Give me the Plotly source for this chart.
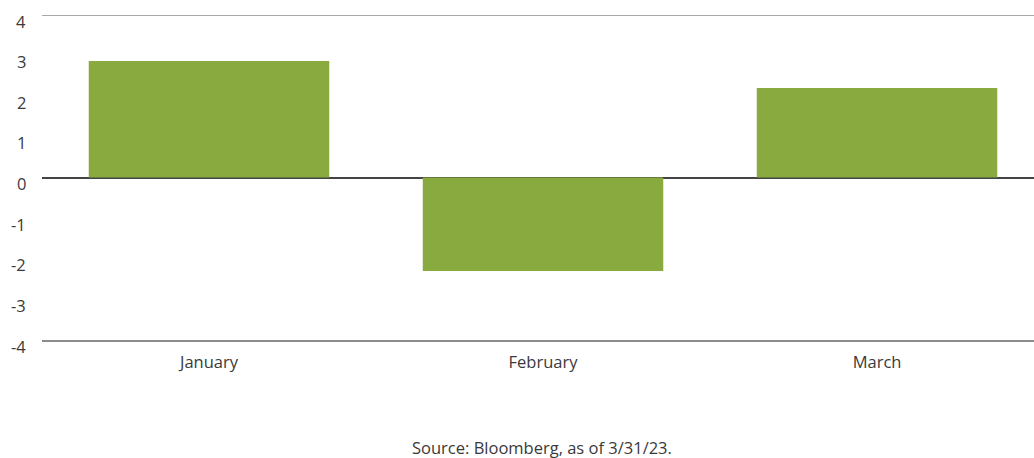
import plotly.graph_objects as go

months = ["January", "February", "March"]
values = [2.87, -2.30, 2.20]
y_ticks = [-4, -3, -2, -1, 0, 1, 2, 3, 4]
source = "Source: Bloomberg, as of 3/31/23."

fig = go.Figure()
fig.add_trace(go.Bar(x=months, y=values, marker_color="#88AA3F", width=0.72,
                     marker_line_width=0))

font_family = "Open Sans, DejaVu Sans, sans-serif"
txt_color = "#3a3a3a"
fs = 16.5
fig.update_layout(
    width=1034, height=458,
    margin=dict(l=42, r=0, t=15, b=118),
    plot_bgcolor="white", paper_bgcolor="white",
    showlegend=False,
    font=dict(family=font_family, size=fs, color=txt_color),
)
fig.update_xaxes(
    range=[-0.5, 2.47], showgrid=False, zeroline=False,
    showline=True, linecolor="#8c8c8c", linewidth=2, mirror=False,
    ticks="", tickfont=dict(size=fs, color=txt_color), ticklabelstandoff=6,
)
fig.update_yaxes(
    range=[-4, 4], tickvals=y_ticks, showticklabels=False,
    showgrid=False, zeroline=True, zerolinecolor="#444444", zerolinewidth=1.5,
    showline=False, ticks="",
)
# y tick labels (slightly below their lines, as in the reference)
for v in y_ticks:
    fig.add_annotation(text=str(v), xref="paper", yref="y", x=0, y=v,
                       xanchor="right", yanchor="middle", xshift=-14, yshift=-6,
                       showarrow=False, font=dict(size=fs, color=txt_color))
# top border line at y=4
fig.add_shape(type="line", xref="paper", yref="y", x0=0, x1=1, y0=4, y1=4,
              line=dict(color="#555555", width=1.2))
fig.add_annotation(text=source, xref="paper", yref="paper", x=0.504, y=-0.33,
                   showarrow=False, font=dict(size=fs, color=txt_color),
                   xanchor="center", yanchor="middle")
fig.write_html("out.html")
